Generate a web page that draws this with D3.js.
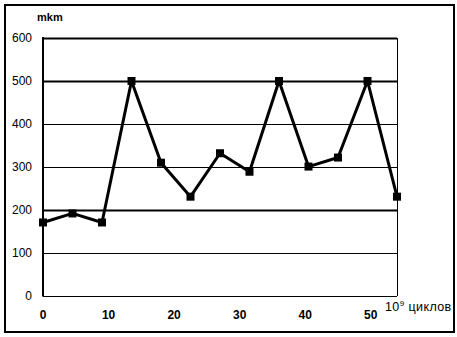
<!DOCTYPE html>
<html>
<head>
<meta charset="utf-8">
<script src="https://cdn.jsdelivr.net/npm/d3@7"></script>
<style>
  body { margin: 0; background: #fff; }
  text { font-family: "Liberation Sans", Arial, sans-serif; fill: #000; }
</style>
</head>
<body>
<div id="vis"></div>
<script>
// данные
const cycles = [0, 4.5, 9, 13.5, 18, 22.5, 27, 31.5, 36, 40.5, 45, 49.5, 54];
const wear = [171, 192, 171, 500, 310, 231, 332, 289, 500, 301, 322, 500, 231];
const yTicks = [0, 100, 200, 300, 400, 500, 600];
const xTicks = [0, 10, 20, 30, 40, 50];
const thickLines = [200, 500, 600];

const W = 457, H = 337;
const m = { left: 43, top: 38, right: 60, bottom: 41 };

const svg = d3.select("#vis").append("svg")
  .attr("width", W).attr("height", H);

// рамка вокруг всего
svg.append("rect")
  .attr("x", 5).attr("y", 5)
  .attr("width", 449).attr("height", 327)
  .attr("fill", "none").attr("stroke", "#000").attr("stroke-width", 2);

const x = d3.scaleLinear().domain([0, 54]).range([m.left, W - m.right]);
const y = d3.scaleLinear().domain([0, 600]).range([H - m.bottom, m.top]);

// сетка
svg.selectAll("line.grid")
  .data(yTicks)
  .enter().append("line")
  .attr("class", "grid")
  .attr("x1", x(0)).attr("x2", x(54))
  .attr("y1", d => Math.round(y(d)) + 0.5)
  .attr("y2", d => Math.round(y(d)) + 0.5)
  .attr("stroke", "#000")
  .attr("stroke-width", d => thickLines.includes(d) ? 2 : 1);

// правая граница
svg.append("line")
  .attr("x1", Math.round(x(54)) + 0.5).attr("x2", Math.round(x(54)) + 0.5)
  .attr("y1", y(600)).attr("y2", y(0))
  .attr("stroke", "#000").attr("stroke-width", 1);

// ось Y (толстая)
svg.append("line")
  .attr("x1", x(0)).attr("x2", x(0))
  .attr("y1", y(600) - 1).attr("y2", y(0) + 0.5)
  .attr("stroke", "#000").attr("stroke-width", 2);

// подписи оси Y
svg.selectAll("text.ylab")
  .data(yTicks)
  .enter().append("text")
  .attr("class", "ylab")
  .attr("x", 32)
  .attr("y", d => y(d))
  .attr("dy", ".35em")
  .attr("text-anchor", "end")
  .attr("font-size", 12)
  .text(d => d);

// подписи оси X
svg.selectAll("text.xlab")
  .data(xTicks)
  .enter().append("text")
  .attr("class", "xlab")
  .attr("x", d => x(d))
  .attr("y", 319)
  .attr("text-anchor", "middle")
  .attr("font-size", 12)
  .attr("font-weight", "bold")
  .text(d => d);

// единицы
svg.append("text")
  .attr("x", 37).attr("y", 21)
  .attr("font-size", 11).attr("font-weight", "bold")
  .text("mkm");

const unit = svg.append("text")
  .attr("x", 385).attr("y", 311)
  .attr("font-size", 12.5)
  .attr("letter-spacing", 0.4);
unit.append("tspan").text("10");
unit.append("tspan").attr("dy", -5).attr("font-size", 8).text("9");
unit.append("tspan").attr("dy", 5).text(" циклов");

// линия
const line = d3.line()
  .x((d, i) => x(cycles[i]))
  .y(d => y(d));

svg.append("path")
  .datum(wear)
  .attr("d", line)
  .attr("fill", "none")
  .attr("stroke", "#000")
  .attr("stroke-width", 3)
  .attr("stroke-linejoin", "round");

// маркеры
svg.selectAll("rect.pt")
  .data(wear)
  .enter().append("rect")
  .attr("class", "pt")
  .attr("x", (d, i) => x(cycles[i]) - 4)
  .attr("y", d => y(d) - 4)
  .attr("width", 8).attr("height", 8)
  .attr("fill", "#000");
</script>
</body>
</html>
